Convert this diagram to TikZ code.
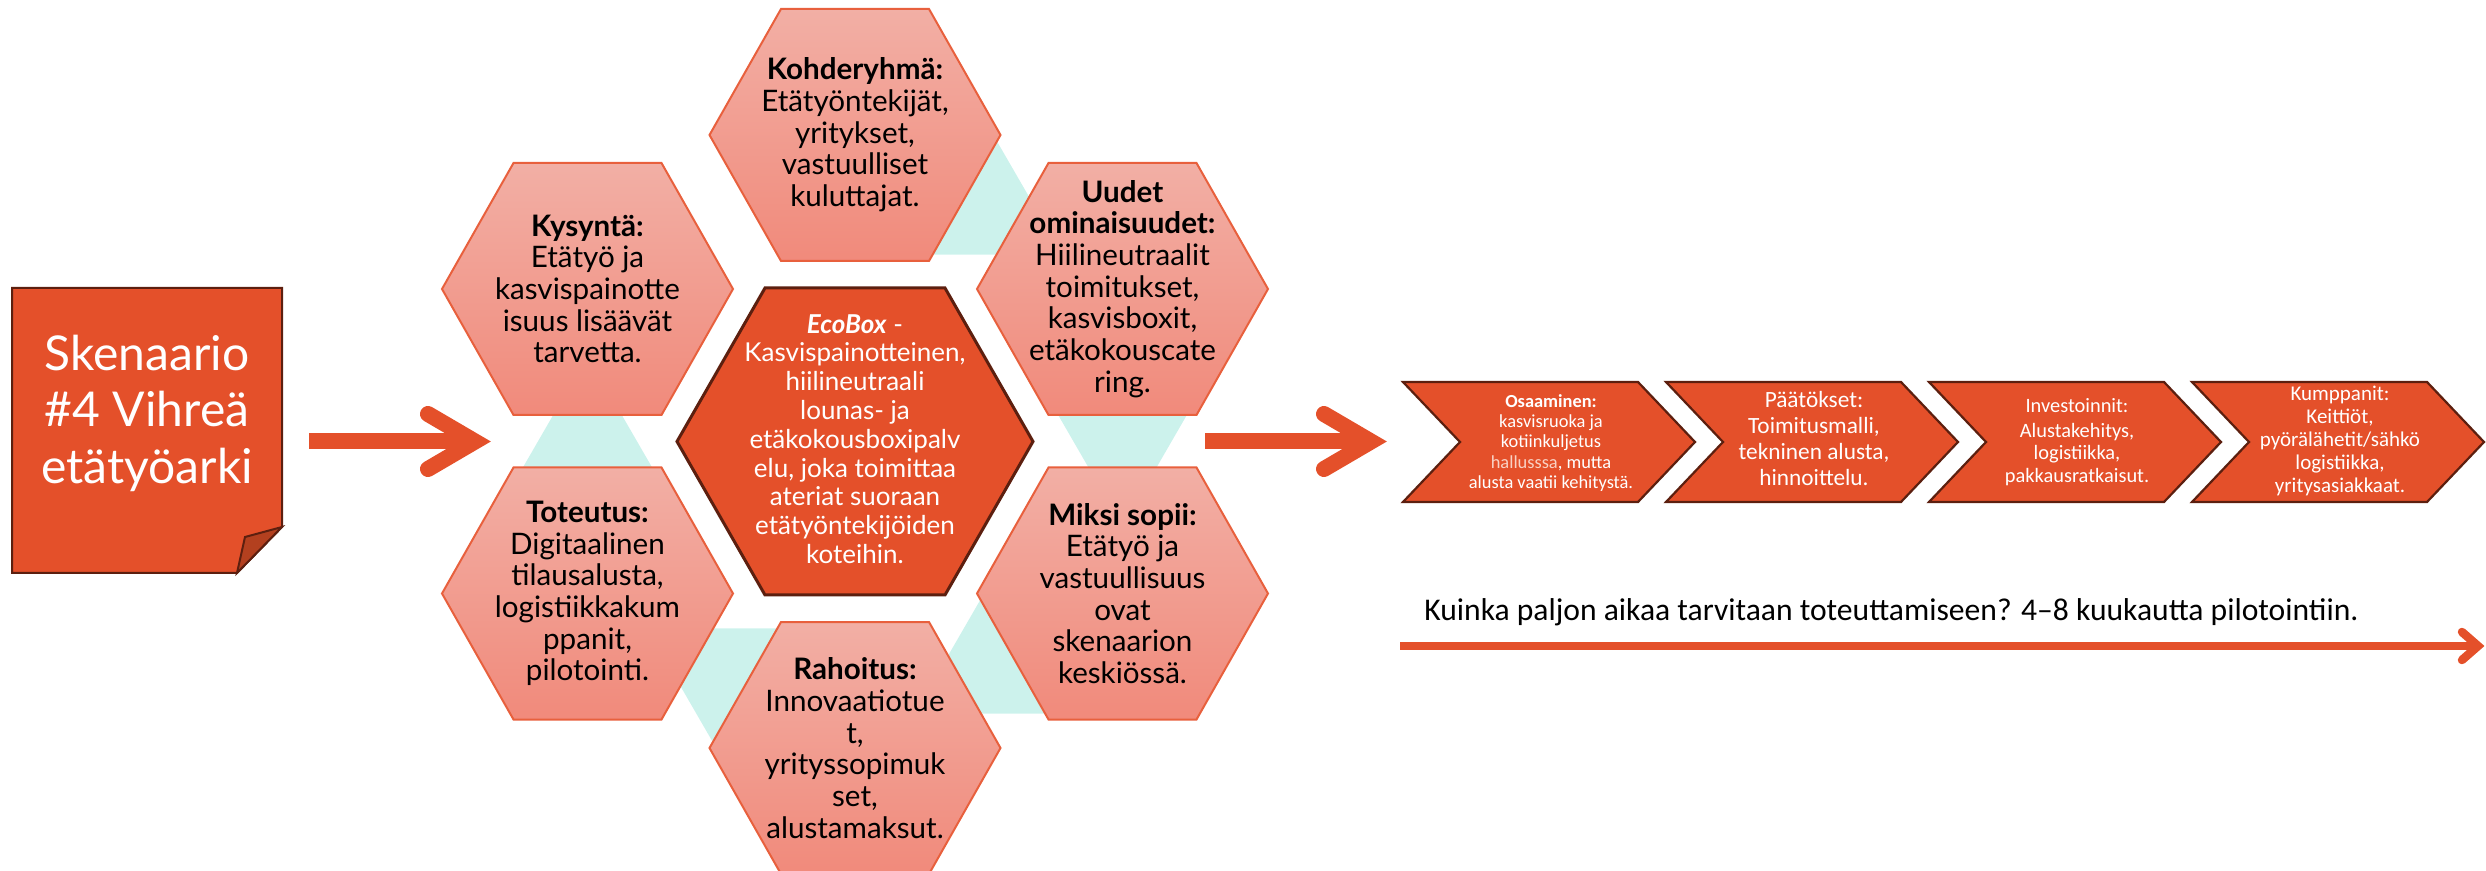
\documentclass[tikz,border=0pt]{standalone}
\usepackage{fontspec}
\setmainfont{Lato}
\newfontfamily\calibri{Carlito}
\usetikzlibrary{calc}

\definecolor{brandorange}{HTML}{E4502A}
\definecolor{darkrim}{HTML}{5C1F0F}
\definecolor{foldcol}{HTML}{B3401F}
\definecolor{gapcyan}{HTML}{CCF2EC}
\definecolor{hextop}{HTML}{F2AFA5}
\definecolor{hexbot}{HTML}{F18A7B}
\definecolor{hexrim}{HTML}{E8603D}
\definecolor{softwhite}{HTML}{F9D2C4}

% flat-topped hexagon: style, centre x, centre y, half width, half top edge, half height
\newcommand\drawhex[6]{\path[#1] ({#2-#4},{#3}) -- ({#2-#5},{#3-#6}) -- ({#2+#5},{#3-#6}) -- ({#2+#4},{#3}) -- ({#2+#5},{#3+#6}) -- ({#2-#5},{#3+#6}) -- cycle;}
% filler triangle between two neighbouring petals: centre x, centre y, +1 up / -1 down
\newcommand\gaptri[3]{\fill[gapcyan] ({#1},{#2-#3*85.3}) -- ({#1-74},{#2+#3*42.7}) -- ({#1+74},{#2+#3*42.7}) -- cycle;}
% process chevron starting at x
\newcommand\chev[1]{\path[chevron] ({#1},382) -- ({#1+235},382) -- ({#1+292},442) -- ({#1+235},502) -- ({#1},502) -- ({#1+57},442) -- cycle;}

\tikzset{
  petal/.style={top color=hextop, bottom color=hexbot, draw=hexrim, line width=1pt},
  core/.style={fill=brandorange, draw=darkrim, line width=1.5pt, line join=miter},
  chevron/.style={fill=brandorange, draw=darkrim, line width=1.1pt, line join=miter},
  petaltext/.style={font=\fontsize{14.8}{15.85}\selectfont, align=center, inner sep=0pt, text=black},
  coretext/.style={font=\fontsize{13}{14.4}\selectfont, align=center, inner sep=0pt, text=white},
  chevtext/.style={align=center, inner sep=0pt, text=white},
  bigarrow/.style={draw=brandorange, line width=8pt},
  thinarrow/.style={draw=brandorange, line width=4.25pt},
  note/.style={fill=brandorange, draw=darkrim, line width=1pt, line join=miter},
  notefold/.style={fill=foldcol, draw=darkrim, line width=1pt, line join=miter},
}

\begin{document}
\begin{tikzpicture}[x=0.5pt, y=-0.5pt]
\useasboundingbox (0,0) rectangle (2486,871);

% scenario note with folded corner
\path[note] (12,288) -- (282,288) -- (282,527) -- (237,573) -- (12,573) -- cycle;
\path[notefold] (237,573) -- (245,537) -- (282,527) -- cycle;
\node[font=\fontsize{24}{28.25}\selectfont, text=white, align=center, inner sep=0pt] (scen) at (147,413) {Skenaario\\\#4 Vihreä\\etätyöarki};

% filler triangles between consecutive petals
\gaptri{988.5}{212}{1}
\gaptri{1122.5}{441}{-1}
\gaptri{988.5}{671}{1}
\gaptri{721}{671}{-1}
\gaptri{587.5}{441}{1}

% petals
\drawhex{petal}{855}{135}{145.5}{74}{126}
\drawhex{petal}{587.5}{289}{145.5}{74}{126}
\drawhex{petal}{1122.5}{289}{145.5}{74}{126}
\drawhex{petal}{587.5}{593.5}{145.5}{74}{126}
\drawhex{petal}{1122.5}{593.5}{145.5}{74}{126}
\drawhex{petal}{855}{748}{145.5}{74}{126}
% core
\drawhex{core}{855}{441.5}{178}{90}{153.5}

\node[petaltext] (kohde) at (855,135) {\textbf{Kohderyhmä:}\\Etätyöntekijät,\\yritykset,\\vastuulliset\\kuluttajat.};
\node[petaltext] (kysynta) at (587.5,289) {\textbf{Kysyntä:}\\Etätyö ja\\kasvispainotte\\isuus lisäävät\\tarvetta.};
\node[petaltext] (uudet) at (1122.5,289) {\textbf{Uudet}\\\textbf{ominaisuudet:}\\Hiilineutraalit\\toimitukset,\\kasvisboxit,\\etäkokouscate\\ring.};
\node[petaltext] (toteutus) at (587.5,593.5) {\textbf{Toteutus:}\\Digitaalinen\\tilausalusta,\\logistiikkakum\\ppanit,\\pilotointi.};
\node[petaltext] (miksi) at (1122.5,593.5) {\textbf{Miksi sopii:}\\Etätyö ja\\vastuullisuus\\ovat\\skenaarion\\keskiössä.};
\node[petaltext] (rahoitus) at (855,748) {\textbf{Rahoitus:}\\Innovaatiotue\\t,\\yrityssopimuk\\set,\\alustamaksut.};
\node[coretext] (ecobox) at (855,439) {\textbf{\textit{EcoBox}} -\\Kasvispainotteinen,\\hiilineutraali\\lounas- ja\\etäkokousboxipalv\\elu, joka toimittaa\\ateriat suoraan\\etätyöntekijöiden\\koteihin.};

% arrow from the note into the cluster
\coordinate (la) at (309,441.5);
\coordinate (lb) at (475,441.5);
\coordinate (lu) at (428,414);
\coordinate (ld) at (428,469);
\draw[bigarrow, line cap=butt] (la) -- (lb);
\draw[bigarrow, line cap=round, line join=miter] (lu) -- (lb) -- (ld);

% arrow from the cluster to the process
\coordinate (ra) at (1205,441.5);
\coordinate (rb) at (1371,441.5);
\coordinate (ru) at (1324,414);
\coordinate (rd) at (1324,469);
\draw[bigarrow, line cap=butt] (ra) -- (rb);
\draw[bigarrow, line cap=round, line join=miter] (ru) -- (rb) -- (rd);

% process chevrons
\chev{1403}
\chev{1666}
\chev{1929}
\chev{2192}

\node[chevtext, font=\calibri\fontsize{9.2}{10.2}\selectfont] (osaam) at (1551,443) {\textbf{Osaaminen:}\\kasvisruoka ja\\kotiinkuljetus\\\textcolor{softwhite}{hallusssa}, mutta\\alusta vaatii kehitystä.};
\node[chevtext, font=\calibri\fontsize{11.65}{13}\selectfont] (paat) at (1814,439) {Päätökset:\\Toimitusmalli,\\tekninen alusta,\\hinnoittelu.};
\node[chevtext, font=\calibri\fontsize{10.2}{11.1}\selectfont] (invest) at (2077,442) {Investoinnit:\\[1.4pt]Alustakehitys,\\logistiikka,\\pakkausratkaisut.};
\node[chevtext, font=\calibri\fontsize{10.5}{11.45}\selectfont] (kump) at (2340,441) {Kumppanit:\\Keittiöt,\\pyörälähetit/sähkö\\logistiikka,\\yritysasiakkaat.};

% timeline
\node[anchor=base west, inner sep=0pt, font=\calibri\fontsize{15.8}{18}\selectfont] (aika) at (1424,620) {Kuinka paljon aikaa tarvitaan toteuttamiseen? 4–8 kuukautta pilotointiin.};
\coordinate (ta) at (1400,646);
\coordinate (tb) at (2478,646);
\coordinate (tu) at (2462,632);
\coordinate (td) at (2462,660);
\draw[thinarrow, line cap=butt] (ta) -- (tb);
\draw[thinarrow, line cap=round, line join=miter] (tu) -- (tb) -- (td);
\end{tikzpicture}
\end{document}
